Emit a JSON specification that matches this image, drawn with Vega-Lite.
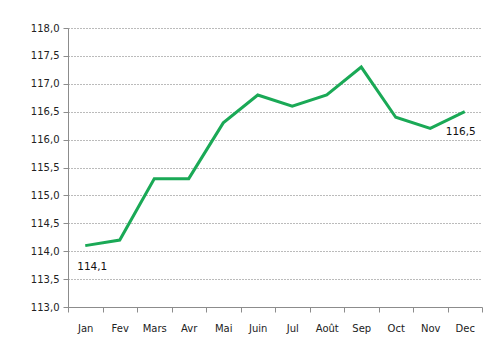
{
  "$schema": "https://vega.github.io/schema/vega-lite/v6.json",
  "width": 414,
  "height": 279,
  "autosize": "none",
  "padding": {"left": 68, "top": 28, "right": 11, "bottom": 47},
  "config": {
    "locale": {"number": {"decimal": ",", "thousands": " ", "grouping": [3], "currency": ["", " €"]}},
    "view": {"stroke": null},
    "font": "DejaVu Sans"
  },
  "data": {"values": [
    {"mois": "Jan", "indice": 114.1},
    {"mois": "Fev", "indice": 114.2},
    {"mois": "Mars", "indice": 115.3},
    {"mois": "Avr", "indice": 115.3},
    {"mois": "Mai", "indice": 116.3},
    {"mois": "Juin", "indice": 116.8},
    {"mois": "Jul", "indice": 116.6},
    {"mois": "Août", "indice": 116.8},
    {"mois": "Sep", "indice": 117.3},
    {"mois": "Oct", "indice": 116.4},
    {"mois": "Nov", "indice": 116.2},
    {"mois": "Dec", "indice": 116.5}
  ]},
  "encoding": {
    "x": {"field": "mois", "type": "nominal", "sort": null,
      "scale": {"paddingInner": 0, "paddingOuter": 0},
      "axis": {"title": null, "labelAngle": 0, "grid": false, "tickBand": "extent",
        "domainColor": "#8c8c8c", "tickColor": "#8c8c8c", "tickSize": 5,
        "labelFontSize": 10, "labelColor": "#222", "labelPadding": 11}},
    "y": {"field": "indice", "type": "quantitative",
      "scale": {"domain": [113, 118], "zero": false, "nice": false},
      "axis": {"title": null, "values": [113, 113.5, 114, 114.5, 115, 115.5, 116, 116.5, 117, 117.5, 118],
        "format": ".1f", "grid": true, "gridDash": [1, 2], "gridColor": "#777", "gridWidth": 1,
        "domainColor": "#8c8c8c", "tickColor": "#8c8c8c", "tickSize": 5,
        "labelFontSize": 10, "labelColor": "#222", "labelPadding": 4}}
  },
  "layer": [
    {"mark": {"type": "line", "color": "#1aa956", "strokeWidth": 3, "strokeJoin": "miter"}},
    {"transform": [{"filter": "datum.mois == 'Jan'"}],
      "mark": {"type": "text", "dy": 21, "dx": 7, "fontSize": 10.5, "color": "#111"},
      "encoding": {"text": {"field": "indice", "type": "quantitative", "format": ".1f"}}},
    {"transform": [{"filter": "datum.mois == 'Dec'"}],
      "mark": {"type": "text", "dy": 20, "dx": -4, "fontSize": 10.5, "color": "#111"},
      "encoding": {"text": {"field": "indice", "type": "quantitative", "format": ".1f"}}}
  ]
}
